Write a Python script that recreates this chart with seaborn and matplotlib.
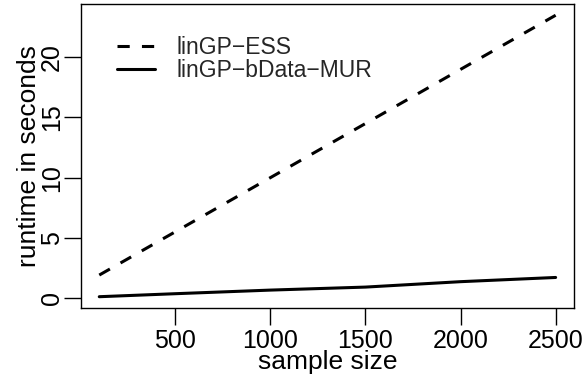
import numpy as np
import pandas as pd
import seaborn as sns
import matplotlib
matplotlib.use("Agg")
import matplotlib.pyplot as plt

# data
sample_size = [100, 500, 1000, 1500, 2000, 2500]
ess_runtime = [1.9, 5.5, 10.0, 14.5, 19.0, 23.5]
mur_runtime = [0.1, 0.35, 0.65, 0.9, 1.35, 1.7]
labels = ["linGP\u2212ESS", "linGP\u2212bData\u2212MUR"]
x_ticks = [500, 1000, 1500, 2000, 2500]
y_ticks = [0, 5, 10, 15, 20]

sns.set_theme(style="white")
plt.rcParams["font.family"] = ["Liberation Sans", "DejaVu Sans"]

fig, ax = plt.subplots(figsize=(5.85, 3.84), dpi=100)
fig.subplots_adjust(left=0.1385, right=0.981, top=0.9896, bottom=0.198)

sns.lineplot(x=sample_size, y=ess_runtime, ax=ax, color="black", lw=2.2,
             linestyle=(0, (4, 4)), label=labels[0])
sns.lineplot(x=sample_size, y=mur_runtime, ax=ax, color="black", lw=2.2,
             linestyle="-", label=labels[1])

# R-style axis ranges (4% padding)
xr = max(sample_size) - min(sample_size)
ax.set_xlim(min(sample_size) - 0.04 * xr, max(sample_size) + 0.04 * xr)
yall = ess_runtime + mur_runtime
yr = max(yall) - min(yall)
ax.set_ylim(min(yall) - 0.04 * yr, max(yall) + 0.04 * yr)

ax.set_xticks(x_ticks)
ax.set_yticks(y_ticks)
ax.tick_params(axis="both", direction="out", length=12, width=1, color="black",
               labelsize=18, labelcolor="black", left=True, bottom=True)
ax.tick_params(axis="x", pad=3)
ax.tick_params(axis="y", pad=0.5)
plt.setp(ax.get_yticklabels(), rotation=90, va="center")

for s in ax.spines.values():
    s.set_color("black")
    s.set_linewidth(1.0)
    s.set_visible(True)

ax.set_xlabel("sample size", fontsize=19, color="black", labelpad=-2)
ax.set_ylabel("runtime in seconds", fontsize=19, color="black", labelpad=-1)

leg = ax.legend(loc="upper left", bbox_to_anchor=(0.055, 0.925), frameon=False,
                fontsize=16.5, handlelength=1.66, handletextpad=0.92,
                labelspacing=0.0, borderaxespad=0)

fig.savefig("out.png", dpi=100)
